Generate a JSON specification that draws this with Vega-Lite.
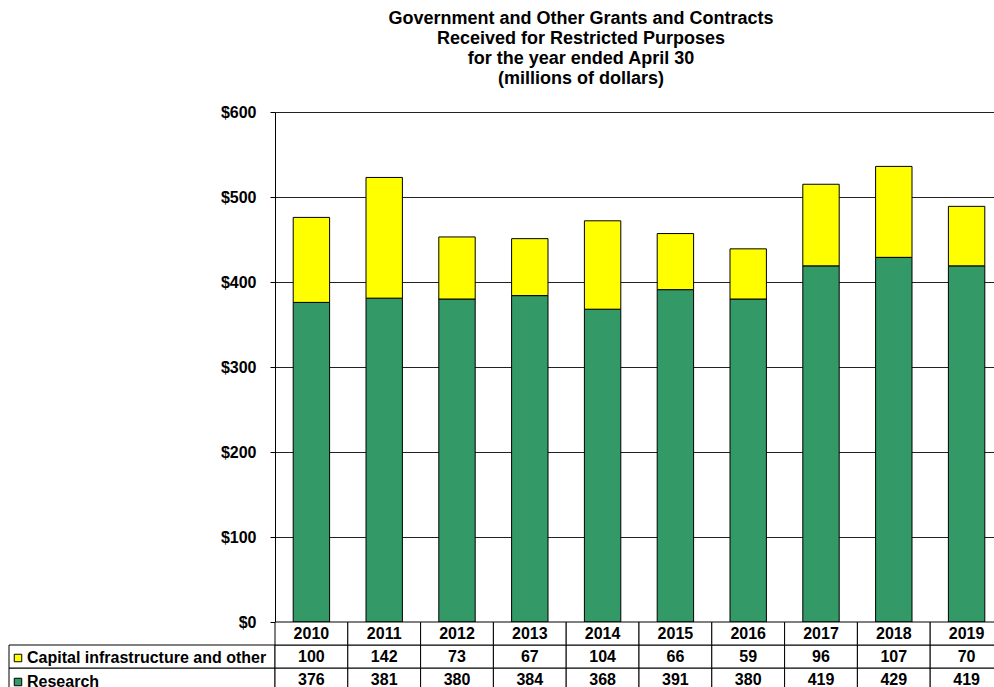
{
  "$schema": "https://vega.github.io/schema/vega-lite/v6.json",
  "padding": {"left": 8, "top": 10, "right": 0, "bottom": 0},
  "background": "white",
  "title": {
    "text": ["Government and Other Grants and Contracts", "Received for Restricted Purposes", "for the year ended April 30", "(millions of dollars)"],
    "font": "Liberation Sans",
    "fontSize": 18,
    "fontWeight": "bold",
    "lineHeight": 20,
    "color": "black",
    "anchor": "middle",
    "dx": 75,
    "offset": 16
  },
  "data": {
    "values": [
      {"year": "2010", "series": "Research", "value": 376},
      {"year": "2010", "series": "Capital infrastructure and other", "value": 100},
      {"year": "2011", "series": "Research", "value": 381},
      {"year": "2011", "series": "Capital infrastructure and other", "value": 142},
      {"year": "2012", "series": "Research", "value": 380},
      {"year": "2012", "series": "Capital infrastructure and other", "value": 73},
      {"year": "2013", "series": "Research", "value": 384},
      {"year": "2013", "series": "Capital infrastructure and other", "value": 67},
      {"year": "2014", "series": "Research", "value": 368},
      {"year": "2014", "series": "Capital infrastructure and other", "value": 104},
      {"year": "2015", "series": "Research", "value": 391},
      {"year": "2015", "series": "Capital infrastructure and other", "value": 66},
      {"year": "2016", "series": "Research", "value": 380},
      {"year": "2016", "series": "Capital infrastructure and other", "value": 59},
      {"year": "2017", "series": "Research", "value": 419},
      {"year": "2017", "series": "Capital infrastructure and other", "value": 96},
      {"year": "2018", "series": "Research", "value": 429},
      {"year": "2018", "series": "Capital infrastructure and other", "value": 107},
      {"year": "2019", "series": "Research", "value": 419},
      {"year": "2019", "series": "Capital infrastructure and other", "value": 70}
    ]
  },
  "columns": 2,
  "bounds": "flush",
  "spacing": 0,
  "concat": [
    {
      "width": 266,
      "height": 510,
      "mark": {"type": "text"},
      "transform": [{"filter": "datum.year == '2010' && datum.series == 'Research'"}],
      "encoding": {"text": {"value": ""}}
    },
    {
      "width": 728,
      "height": 510,
      "mark": {"type": "bar", "stroke": "black", "strokeWidth": 1},
      "encoding": {
        "x": {
          "field": "year",
          "type": "nominal",
          "scale": {"paddingInner": 0.5, "paddingOuter": 0.25},
          "axis": null
        },
        "y": {
          "field": "value",
          "type": "quantitative",
          "stack": "zero",
          "scale": {"domain": [0, 600], "nice": false},
          "axis": {
            "title": null,
            "values": [0, 100, 200, 300, 400, 500, 600],
            "format": "$,.0f",
            "labelFont": "Liberation Sans",
            "labelFontSize": 16,
            "labelFontWeight": "bold",
            "labelColor": "black",
            "labelPadding": 14,
            "tickSize": 5,
            "tickColor": "black",
            "domainColor": "black",
            "grid": true,
            "gridColor": "#222",
            "gridWidth": 1
          }
        },
        "color": {
          "field": "series",
          "type": "nominal",
          "scale": {
            "domain": ["Capital infrastructure and other", "Research"],
            "range": ["#FFFF00", "#339966"]
          },
          "legend": {
            "orient": "none",
            "legendX": 1,
            "legendY": 538,
            "direction": "vertical",
            "title": null,
            "padding": 0,
            "symbolType": "square",
            "symbolSize": 56,
            "symbolStrokeColor": "black",
            "symbolStrokeWidth": 1,
            "symbolOpacity": 1,
            "labelFont": "Liberation Sans",
            "labelFontSize": 16,
            "labelFontWeight": "bold",
            "labelColor": "black",
            "labelOffset": 1,
            "rowPadding": 8,
            "labelLimit": 400
          }
        },
        "order": {"field": "series", "sort": "descending"}
      }
    },
    {
      "width": 266,
      "height": 69,
      "transform": [{"filter": "datum.year == '2010'"}],
      "mark": {"type": "rect", "fill": "white", "stroke": "black", "strokeWidth": 1},
      "encoding": {
        "y": {
          "field": "series",
          "type": "nominal",
          "scale": {"domain": ["year", "Capital infrastructure and other", "Research"], "paddingInner": 0, "paddingOuter": 0},
          "axis": null
        }
      }
    },
    {
      "width": 728,
      "height": 69,
      "encoding": {
        "x": {
          "field": "year",
          "type": "nominal",
          "scale": {"paddingInner": 0, "paddingOuter": 0},
          "axis": null
        }
      },
      "layer": [
        {
          "mark": {"type": "rect", "fill": "white", "stroke": "black", "strokeWidth": 1},
          "encoding": {
            "y": {
              "field": "series",
              "type": "nominal",
              "scale": {"domain": ["year", "Capital infrastructure and other", "Research"], "paddingInner": 0, "paddingOuter": 0},
              "axis": null
            }
          }
        },
        {
          "transform": [{"filter": "datum.series == 'Research'"}],
          "mark": {"type": "rect", "fill": "white", "stroke": "black", "strokeWidth": 1},
          "encoding": {
            "y": {"datum": "year", "type": "nominal"}
          }
        },
        {
          "mark": {"type": "text", "font": "Liberation Sans", "fontSize": 16, "fontWeight": "bold", "color": "black", "baseline": "middle"},
          "encoding": {
            "y": {"field": "series", "type": "nominal"},
            "text": {"field": "value", "type": "quantitative"}
          }
        },
        {
          "transform": [{"filter": "datum.series == 'Research'"}],
          "mark": {"type": "text", "font": "Liberation Sans", "fontSize": 16, "fontWeight": "bold", "color": "black", "baseline": "middle"},
          "encoding": {
            "y": {"datum": "year", "type": "nominal"},
            "text": {"field": "year", "type": "nominal"}
          }
        }
      ]
    }
  ],
  "config": {
    "view": {"stroke": null},
    "font": "Liberation Sans"
  }
}
